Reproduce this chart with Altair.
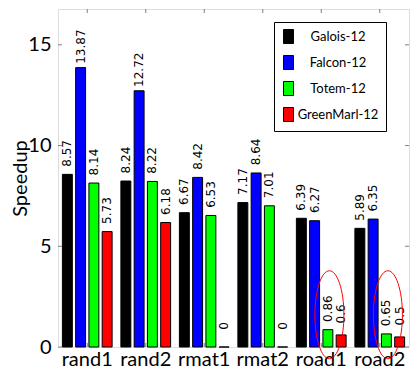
import altair as alt
import pandas as pd

categories = ["rand1", "rand2", "rmat1", "rmat2", "road1", "road2"]
series = ["Galois-12", "Falcon-12", "Totem-12", "GreenMarl-12"]
colors = ["#000000", "#0000ff", "#00ff00", "#ff0000"]
galois = [8.57, 8.24, 6.67, 7.17, 6.39, 5.89]
falcon = [13.87, 12.72, 8.42, 8.64, 6.27, 6.35]
totem = [8.14, 8.22, 6.53, 7.01, 0.86, 0.65]
greenmarl = [5.73, 6.18, 0, 0, 0.6, 0.5]
y_ticks = [0, 5, 10, 15]
ellipse_cats = ["road1", "road2"]
ellipse_y = [1.6, 1.6]

rows = []
for s, vals in zip(series, [galois, falcon, totem, greenmarl]):
    for c, v in zip(categories, vals):
        rows.append({"category": c, "series": s, "value": v, "label": f"{v:g}"})
df = pd.DataFrame(rows)
tick_df = pd.DataFrame({"value": y_ticks})
cat_df = pd.DataFrame({"category": categories})
ell_df = pd.DataFrame({"category": ellipse_cats, "value": ellipse_y})

W, H, YMAX = 351, 338, 16.78
FONT = "Lato"

xscale = alt.Scale(domain=categories, paddingInner=0.15, paddingOuter=0.075)
yscale = alt.Scale(domain=[0, YMAX], nice=False, zero=True)

x_axis = alt.Axis(title=None, labelAngle=0, labelFont=FONT, labelFontSize=20,
                  labelColor="black", labelPadding=2, ticks=False, tickSize=0,
                  domain=False, grid=False)
y_axis = alt.Axis(title="Speedup", values=y_ticks, labelFont=FONT, labelFontSize=20,
                  labelColor="black", labelPadding=7, ticks=False, tickSize=0,
                  domain=False, grid=False, titleFont=FONT, titleFontSize=20,
                  titleFontWeight="normal", titleColor="black", titlePadding=-3)


def X():
    return alt.X("category:N", sort=categories, scale=xscale, axis=x_axis, title=None)


def Y():
    return alt.Y("value:Q", scale=yscale, axis=y_axis, title="Speedup")


xoff = alt.XOffset("series:N", sort=series, scale=alt.Scale(domain=series, paddingInner=0.25))

ELLIPSE = "M-0.33,0A0.33,1,0,1,0,0.33,0A0.33,1,0,1,0,-0.33,0Z"
RECT = "M-0.714,-1H0.714V1H-0.714Z"

bars = alt.Chart(df).mark_bar(stroke="black", strokeWidth=1).encode(
    x=X(),
    xOffset=xoff,
    y=Y(),
    color=alt.Color("series:N", sort=series,
                    scale=alt.Scale(domain=series, range=colors),
                    legend=alt.Legend(title=None, orient="none", legendX=216, legendY=13,
                                      direction="vertical", symbolType=RECT, symbolSize=196,
                                      symbolStrokeColor="black", symbolStrokeWidth=1,
                                      symbolOpacity=1,
                                      labelFont=FONT, labelFontSize=13, labelColor="black",
                                      labelAlign="center", labelOffset=42, rowPadding=7,
                                      strokeColor="black", fillColor="white", padding=7,
                                      cornerRadius=0)),
)

labels = alt.Chart(df).mark_text(angle=270, align="center", baseline="middle", dx=21,
                                 font="DejaVu Sans", fontSize=12, color="black").encode(
    x=X(),
    xOffset=xoff,
    y=Y(),
    text="label:N",
)

tick_col = "#808080"
lt = alt.Chart(tick_df).mark_rule(color=tick_col, strokeWidth=1).encode(
    y=Y(), x=alt.value(0), x2=alt.value(4))
rt = alt.Chart(tick_df).mark_rule(color=tick_col, strokeWidth=1).encode(
    y=Y(), x=alt.value(W - 4), x2=alt.value(W))
tt = alt.Chart(cat_df).mark_rule(color=tick_col, strokeWidth=1).encode(
    x=X(), y=alt.value(0), y2=alt.value(4))
bt = alt.Chart(cat_df).mark_rule(color=tick_col, strokeWidth=1).encode(
    x=X(), y=alt.value(H - 4), y2=alt.value(H))

ell = alt.Chart(ell_df).mark_point(shape=ELLIPSE, size=7744, filled=False, color="red",
                                   strokeWidth=1, opacity=1).encode(
    x=X(),
    xOffset=alt.value(33),
    y=Y(),
)

chart = alt.layer(bars, labels, lt, rt, tt, bt, ell).properties(
    width=W, height=H, padding={"left": 2, "top": 0, "right": 0, "bottom": 0}
).configure_view(stroke="#808080", strokeWidth=1).configure(background="white")

chart.save("out.html", embed_options={"renderer": "svg", "actions": False})
